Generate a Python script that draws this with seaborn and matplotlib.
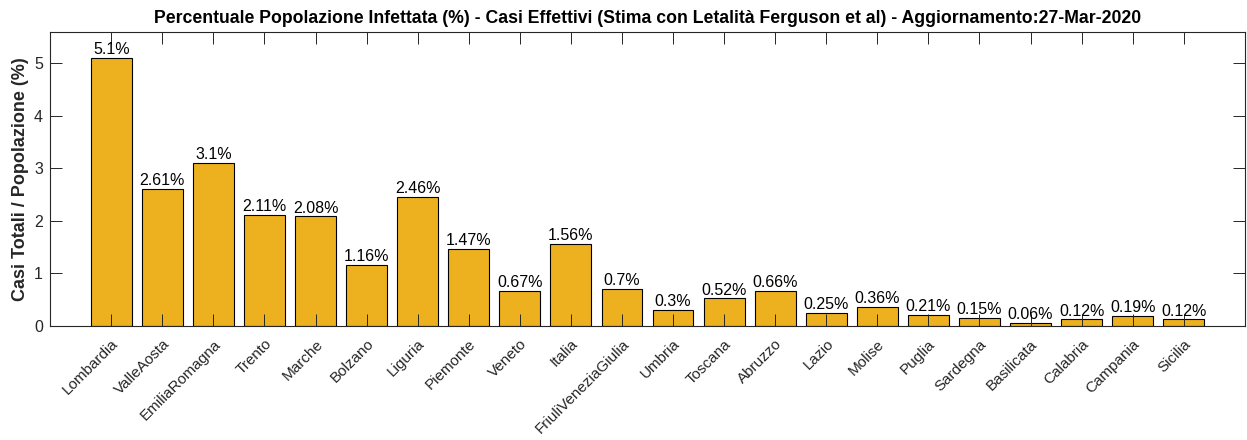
import matplotlib
matplotlib.use("Agg")
import matplotlib.pyplot as plt
import seaborn as sns
import pandas as pd

regions = ["Lombardia", "ValleAosta", "EmiliaRomagna", "Trento", "Marche", "Bolzano",
           "Liguria", "Piemonte", "Veneto", "Italia", "FriuliVeneziaGiulia", "Umbria",
           "Toscana", "Abruzzo", "Lazio", "Molise", "Puglia", "Sardegna", "Basilicata",
           "Calabria", "Campania", "Sicilia"]
values = [5.1, 2.61, 3.1, 2.11, 2.08, 1.16, 2.46, 1.47, 0.67, 1.56, 0.7, 0.3,
          0.52, 0.66, 0.25, 0.36, 0.21, 0.15, 0.06, 0.12, 0.19, 0.12]
labels = ["5.1%", "2.61%", "3.1%", "2.11%", "2.08%", "1.16%", "2.46%", "1.47%", "0.67%",
          "1.56%", "0.7%", "0.3%", "0.52%", "0.66%", "0.25%", "0.36%", "0.21%", "0.15%",
          "0.06%", "0.12%", "0.19%", "0.12%"]
title = ("Percentuale Popolazione Infettata (%) - Casi Effettivi (Stima con Letalità "
         "Ferguson et al) - Aggiornamento:27-Mar-2020")
ylabel = "Casi Totali / Popolazione (%)"

sns.set_theme(style="white")
plt.rcParams["font.family"] = ["Liberation Sans", "DejaVu Sans"]

df = pd.DataFrame({"region": regions, "value": values})

fig = plt.figure(figsize=(12.47, 4.40), dpi=100)
ax = fig.add_axes([0.0401, 0.2598, 0.9583, 0.6682])
axc = "#262626"

sns.barplot(data=df, x="region", y="value", ax=ax, color="#EDB120", saturation=1,
            width=0.8, edgecolor="black", linewidth=0.8, zorder=1)

for i, (v, lab) in enumerate(zip(values, labels)):
    ax.text(i, v + 0.015, lab, ha="center", va="bottom", fontsize=11.5, color="black", zorder=3)

ax.set_xlim(-1.2, 22.2)
ax.set_ylim(0, 5.6)
ax.set_yticks([0, 1, 2, 3, 4, 5])
ax.set_xticks(range(len(regions)))
ax.set_xticklabels(regions, rotation=45, ha="right", rotation_mode="anchor",
                   fontsize=11, color=axc)
ax.tick_params(axis="y", labelsize=11.5, labelcolor=axc, pad=5)
ax.tick_params(axis="x", pad=8)
ax.tick_params(direction="in", length=8.6, width=0.7, color=axc,
               top=True, right=True, bottom=True, left=True)
ax.set_axisbelow(False)
for s in ax.spines.values():
    s.set_color(axc)
    s.set_linewidth(0.8)
    s.set_visible(True)
ax.set_xlabel("")
ax.set_ylabel(ylabel, fontsize=13, fontweight="bold", color=axc, labelpad=4)
ax.set_title(title, fontsize=12.7, fontweight="bold", color="black", pad=6)
ax.grid(False)

fig.savefig("out.png", dpi=100)
